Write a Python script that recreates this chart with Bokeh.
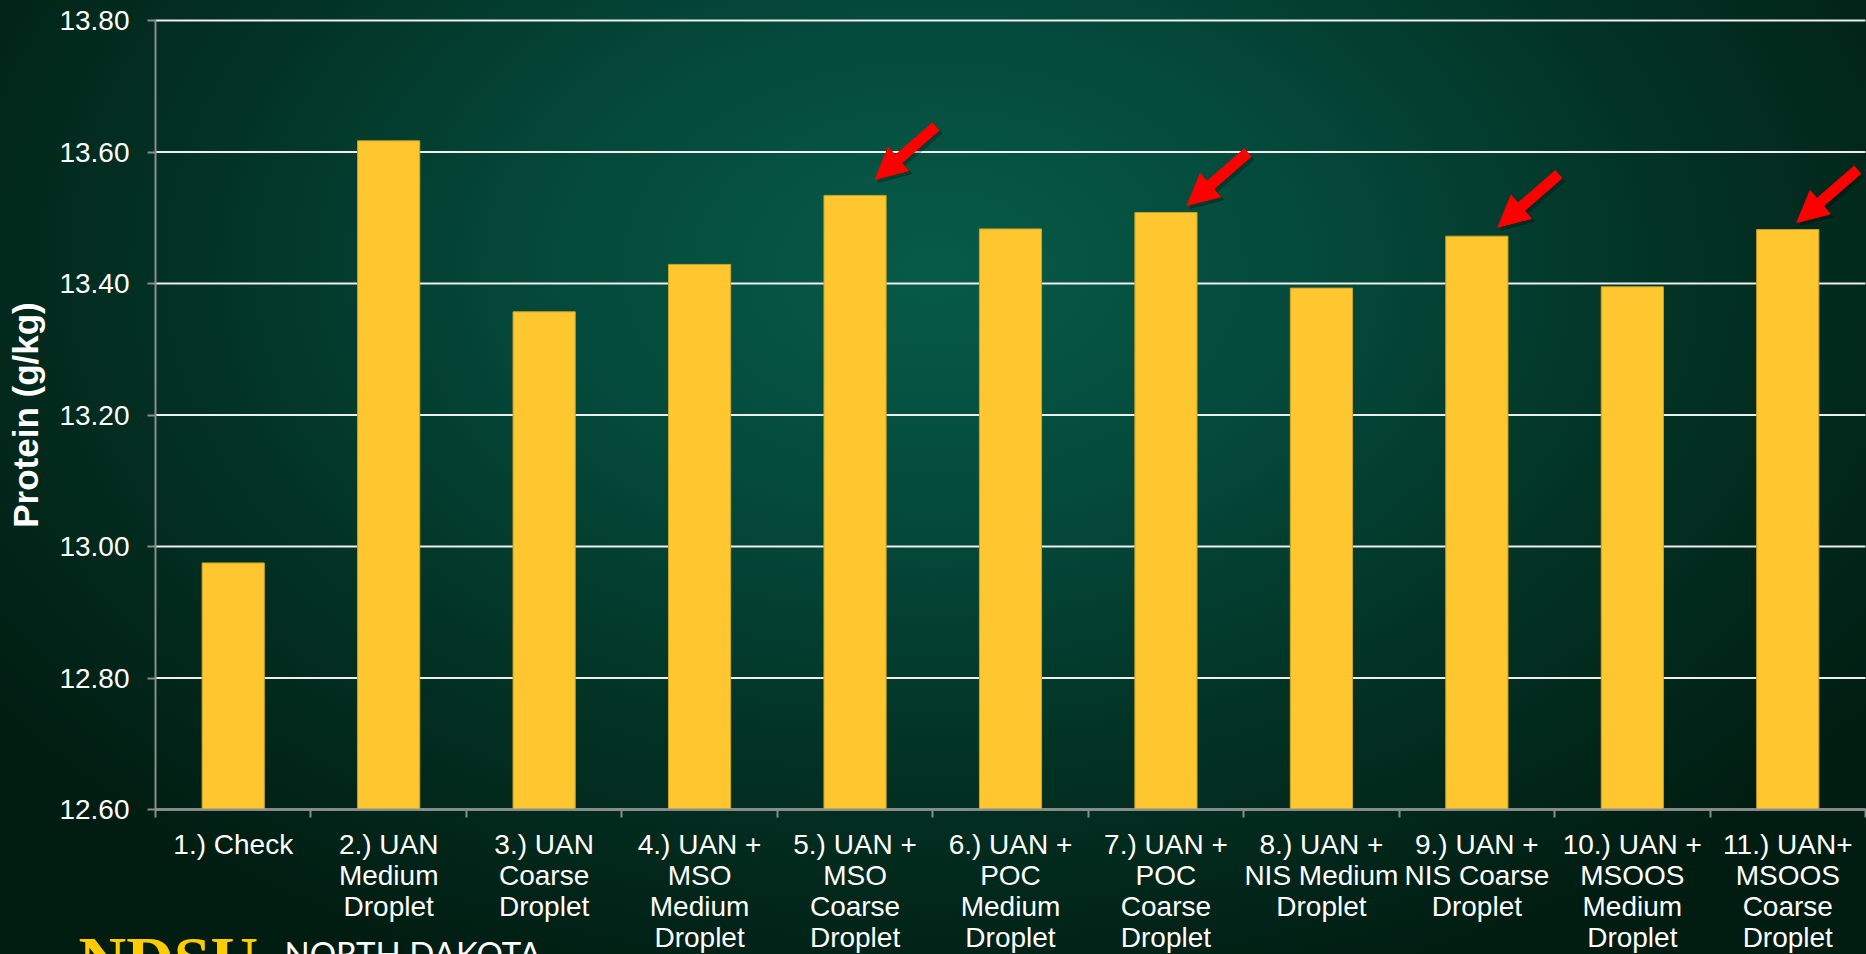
from bokeh.plotting import figure
from bokeh.models import (Range1d, FixedTicker, NumeralTickFormatter, Label,
                          Arrow, NormalHead, ColumnDataSource)
from bokeh.embed import file_html
from bokeh.resources import INLINE

# ---------------- data ----------------
categories = [
    "1.) Check",
    "2.) UAN\nMedium\nDroplet",
    "3.) UAN\nCoarse\nDroplet",
    "4.) UAN +\nMSO\nMedium\nDroplet",
    "5.) UAN +\nMSO\nCoarse\nDroplet",
    "6.) UAN +\nPOC\nMedium\nDroplet",
    "7.) UAN +\nPOC\nCoarse\nDroplet",
    "8.) UAN +\nNIS Medium\nDroplet",
    "9.) UAN +\nNIS Coarse\nDroplet",
    "10.) UAN +\nMSOOS\nMedium\nDroplet",
    "11.) UAN+\nMSOOS\nCoarse\nDroplet",
]
protein = [12.975, 13.617, 13.357, 13.429, 13.534, 13.483, 13.508, 13.393, 13.472, 13.395, 13.482]
highlighted = [5, 7, 9, 11]          # treatments marked with red arrows
y_ticks = [12.60, 12.80, 13.00, 13.20, 13.40, 13.60, 13.80]
y_label = "Protein (g/kg)"

# ---------------- layout / style ----------------
# The frame covers the whole page; the axes are pinned to the plot-area edges
# (fixed_location) so that the bottom-left wordmark can be drawn too.
W, H = 1866, 954
AX_LEFT, AX_RIGHT, AX_TOP, AX_BOTTOM = 155, 1865, 20, 809   # plot-area edges in px
n = len(categories)
xs = [i + 0.5 for i in range(n)]

PX_X = (AX_RIGHT - AX_LEFT) / n                          # px per category
PX_Y = (AX_BOTTOM - AX_TOP) / (y_ticks[-1] - y_ticks[0])  # px per g/kg
x_range = Range1d(-AX_LEFT / PX_X, n + (W - AX_RIGHT) / PX_X)
y_end = y_ticks[-1] + AX_TOP / PX_Y
y_range = Range1d(y_end - H / PX_Y, y_end)

p = figure(width=W, height=H, output_backend="svg", toolbar_location=None,
           x_range=x_range, y_range=y_range,
           min_border=0, min_border_left=0, min_border_right=0,
           min_border_top=0, min_border_bottom=0)
p.styles = {"background": "radial-gradient(ellipse 62% 80% at 50% 28%, #075b48 0%, #04483a 35%, #023224 65%, #011d12 100%)"}
p.background_fill_color = None
p.border_fill_color = None
p.outline_line_color = None

FONT = "Liberation Sans"

# horizontal grid lines (behind bars)
p.xgrid.visible = False
p.ygrid.visible = False
p.segment(x0=0, x1=n, y0=y_ticks, y1=y_ticks, line_color="#EEEEEE", line_width=2)

# bars
src = ColumnDataSource(dict(x=xs, top=protein))
p.vbar(x="x", top="top", bottom=y_ticks[0], width=0.4, source=src,
       fill_color="#FFC72F", line_color="#C9A228", line_width=1)

# y axis
ya = p.yaxis[0]
ya.fixed_location = 0
ya.bounds = (y_ticks[0], y_ticks[-1])
ya.ticker = FixedTicker(ticks=y_ticks)
ya.formatter = NumeralTickFormatter(format="0.00")
ya.axis_line_color = "#8C8C8C"
ya.axis_line_width = 2
ya.major_tick_line_color = "#8C8C8C"
ya.major_tick_line_width = 2
ya.major_tick_out = 8
ya.major_tick_in = 0
ya.minor_tick_line_color = None
ya.major_label_text_color = "white"
ya.major_label_text_font = FONT
ya.major_label_text_font_size = "28px"
ya.major_label_standoff = 18
ya.axis_label = y_label
ya.axis_label_text_color = "white"
ya.axis_label_text_font = FONT
ya.axis_label_text_font_style = "bold"
ya.axis_label_text_font_size = "35px"
ya.axis_label_standoff = 11

# x axis: labels at bar centres, tick marks at category boundaries
xa = p.xaxis[0]
xa.fixed_location = y_ticks[0]
xa.bounds = (0, n)
xa.ticker = FixedTicker(ticks=xs, minor_ticks=list(range(n + 1)))
xa.major_label_overrides = {x: c for x, c in zip(xs, categories)}
xa.axis_line_color = "#8C8C8C"
xa.axis_line_width = 2
xa.major_tick_line_color = None
xa.major_tick_out = 0
xa.major_tick_in = 0
xa.minor_tick_line_color = "#8C8C8C"
xa.minor_tick_line_width = 2
xa.minor_tick_out = 8
xa.minor_tick_in = 0
xa.major_label_text_color = "white"
xa.major_label_text_font = FONT
xa.major_label_text_font_size = "28px"
xa.major_label_text_line_height = 1.0
xa.major_label_standoff = 11

# red arrows pointing at highlighted bars (offsets in screen px)
arrow_tip_dx = [20, 21, 21, 9]
arrow_tip_dy = [16, 7, 9, 7]
TAIL_DX, TAIL_DY = 61, 53
MID = 20 / 80.0   # shaft ends 20 px before the tip (inside the head)

tip_x = [xs[t - 1] + dx / PX_X for t, dx in zip(highlighted, arrow_tip_dx)]
tip_y = [protein[t - 1] + dy / PX_Y for t, dy in zip(highlighted, arrow_tip_dy)]
tail_x = [x + TAIL_DX / PX_X for x in tip_x]
tail_y = [y + TAIL_DY / PX_Y for y in tip_y]
mid_x = [x + MID * TAIL_DX / PX_X for x in tip_x]
mid_y = [y + MID * TAIL_DY / PX_Y for y in tip_y]


def add_arrow(dx_px, dy_px, color, alpha):
    ox, oy = dx_px / PX_X, dy_px / PX_Y
    shaft = ColumnDataSource(dict(xs=[v + ox for v in tail_x], ys=[v + oy for v in tail_y],
                                  xe=[v + ox for v in mid_x], ye=[v + oy for v in mid_y]))
    head = ColumnDataSource(dict(xs=[v + ox for v in mid_x], ys=[v + oy for v in mid_y],
                                 xe=[v + ox for v in tip_x], ye=[v + oy for v in tip_y]))
    p.add_layout(Arrow(end=None, x_start="xs", y_start="ys", x_end="xe", y_end="ye",
                       source=shaft, line_color=color, line_alpha=alpha, line_width=11))
    p.add_layout(Arrow(end=NormalHead(size=31, fill_color=color, fill_alpha=alpha,
                                      line_color=color, line_alpha=alpha, line_width=1),
                       x_start="xs", y_start="ys", x_end="xe", y_end="ye",
                       source=head, line_alpha=0, line_width=1))


add_arrow(3, -3, "#000000", 0.25)   # soft drop shadow
add_arrow(0, 0, "#FF0000", 1.0)

# NDSU wordmark (bottom-left, cut by the page edge); anchor = top of text, px from bottom
p.add_layout(Label(x=78, y=H - 922, x_units="screen", y_units="screen",
                   text="NDSU", text_font="Liberation Serif", text_font_style="bold",
                   text_font_size="66px", text_color="#FFCC00", text_baseline="top"))
p.add_layout(Label(x=284, y=H - 932, x_units="screen", y_units="screen",
                   text="NORTH DAKOTA", text_font="Lato", text_font_size="33px",
                   text_color="white", text_baseline="top"))

open("out.html", "w").write(file_html(p, INLINE))
